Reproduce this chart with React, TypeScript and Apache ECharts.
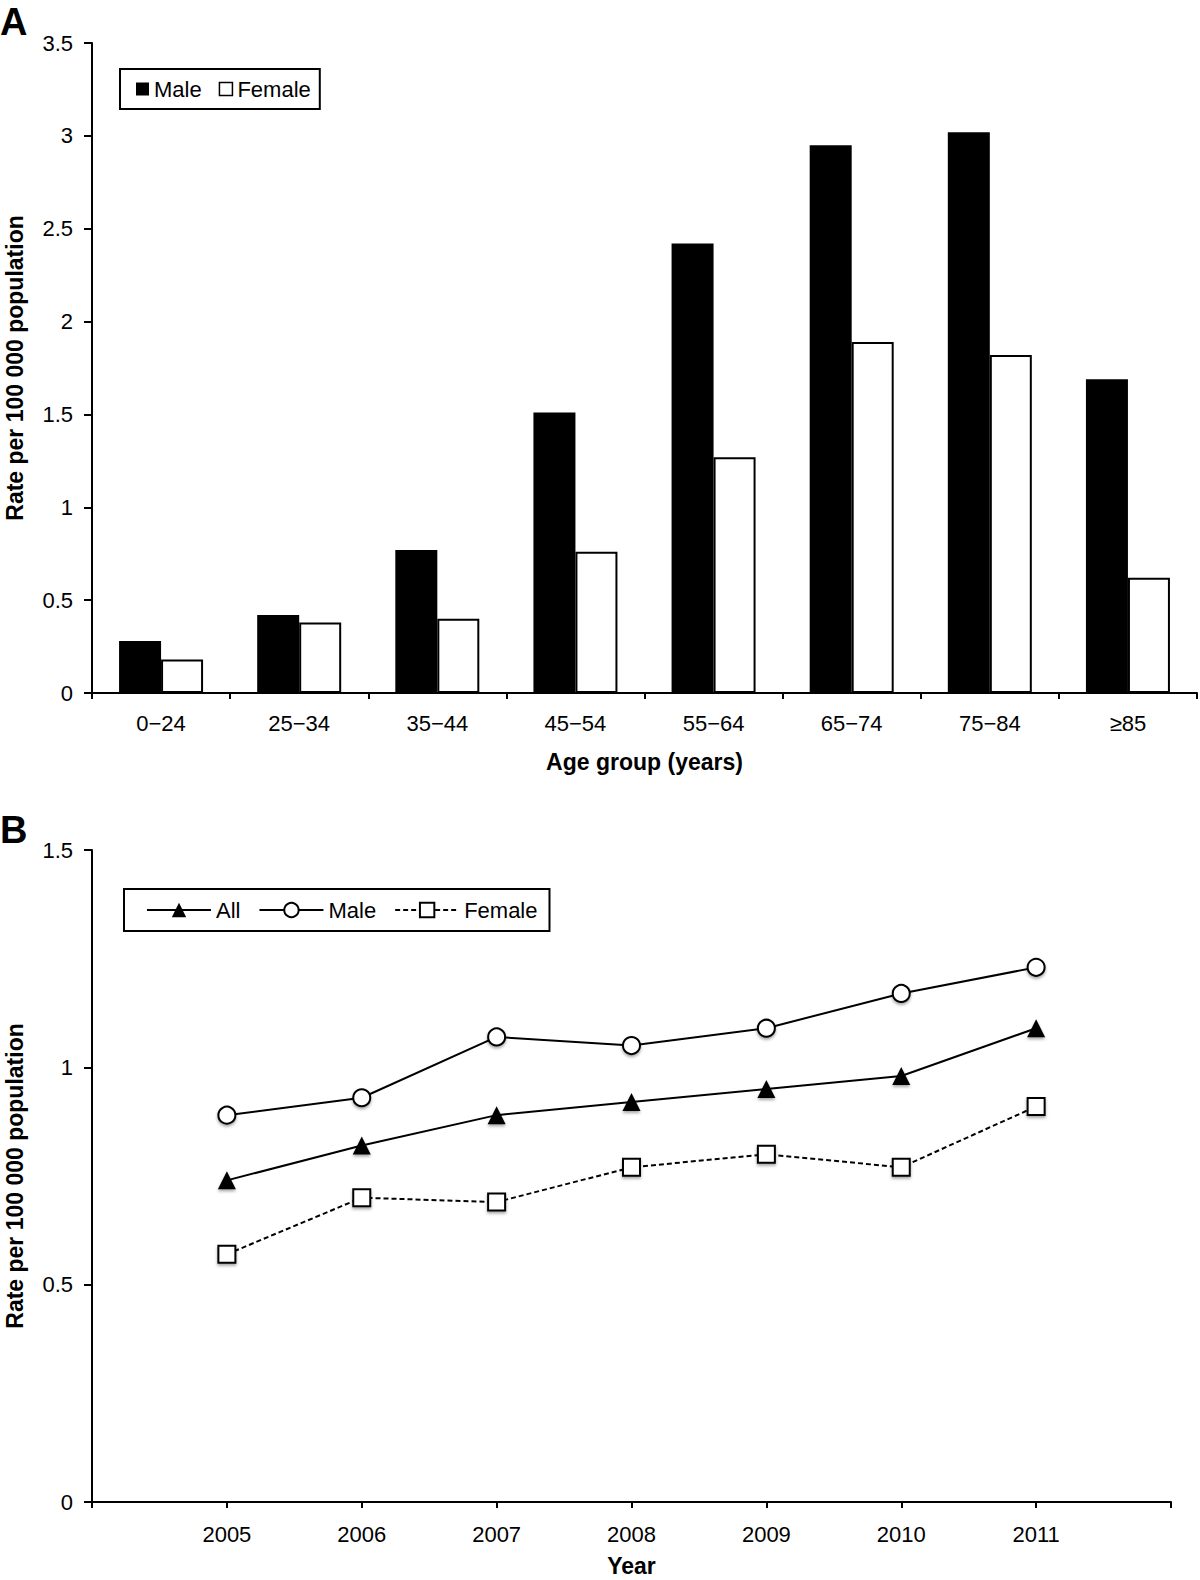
import React, { useEffect, useRef } from 'react';
import * as echarts from 'echarts';

// Panel A data
const ageGroups = ['0−24', '25−34', '35−44', '45−54', '55−64', '65−74', '75−84', '≥85'];
const maleRates = [0.28, 0.42, 0.77, 1.51, 2.42, 2.95, 3.02, 1.69];
const femaleRates = [0.18, 0.38, 0.4, 0.76, 1.27, 1.89, 1.82, 0.62];

// Panel B data
const years = [2005, 2006, 2007, 2008, 2009, 2010, 2011];
const allTrend = [0.74, 0.82, 0.89, 0.92, 0.95, 0.98, 1.09];
const maleTrend = [0.89, 0.93, 1.07, 1.05, 1.09, 1.17, 1.23];
const femaleTrend = [0.57, 0.7, 0.69, 0.77, 0.8, 0.77, 0.91];

const FONT = '"Liberation Sans", Arial, Helvetica, sans-serif';
const BLACK = '#000';

export default function App() {
  const ref = useRef<HTMLDivElement>(null);

  useEffect(() => {
    if (!ref.current) return;
    const chart = echarts.init(ref.current, undefined, { renderer: 'svg' });
    const axisLine = { show: true, lineStyle: { color: BLACK, width: 2 } };
    const tickStyle = { color: BLACK, width: 2 };
    const shadow = { shadowBlur: 3, shadowColor: 'rgba(0,0,0,0.35)', shadowOffsetY: 2 };
    const tickLabel = { color: BLACK, fontSize: 22, fontFamily: FONT };
    const titleStyle = { fontSize: 23, fontWeight: 'bold', color: BLACK, fontFamily: FONT };

    const option: any = {
      animation: false,
      backgroundColor: '#fff',
      textStyle: { fontFamily: FONT, color: BLACK },
      graphic: [
        { type: 'text', left: 0, top: 3, style: { text: 'A', font: `bold 38px ${FONT}`, fill: BLACK } },
        { type: 'text', left: 0, top: 811, style: { text: 'B', font: `bold 38px ${FONT}`, fill: BLACK } },
      ],
      grid: [
        { left: 92, top: 43, width: 1105, height: 650, containLabel: false, outerBoundsMode: 'none' },
        { left: 92, top: 850, width: 1079, height: 652, containLabel: false, outerBoundsMode: 'none' },
      ],
      legend: [
        {
          left: 120,
          top: 69,
          orient: 'horizontal',
          icon: 'rect',
          itemWidth: 13,
          itemHeight: 13,
          itemGap: 17,
          padding: [9, 9, 9, 16],
          borderColor: BLACK,
          borderWidth: 2,
          textStyle: { fontSize: 22, color: BLACK, fontFamily: FONT },
          data: [
            { name: 'Male', itemStyle: { color: BLACK, borderWidth: 0 } },
            { name: 'Female', itemStyle: { color: '#fff', borderColor: BLACK, borderWidth: 1.5 } },
          ],
        },
        {
          left: 124,
          top: 889,
          orient: 'horizontal',
          itemWidth: 64,
          itemHeight: 18,
          itemGap: 18,
          padding: [10, 12, 10, 22],
          borderColor: BLACK,
          borderWidth: 2,
          textStyle: { fontSize: 22, color: BLACK, fontFamily: FONT },
          formatter: (name: string) => name.replace(' trend', ''),
          data: ['All trend', 'Male trend', 'Female trend'],
        },
      ],
      xAxis: [
        {
          gridIndex: 0,
          type: 'category',
          data: ageGroups,
          axisLine,
          axisTick: { show: true, length: 6, lineStyle: tickStyle },
          axisLabel: { ...tickLabel, margin: 19 },
          splitLine: { show: false },
          name: 'Age group (years)',
          nameLocation: 'middle',
          nameGap: 57,
          nameTextStyle: titleStyle,
        },
        {
          gridIndex: 1,
          type: 'value',
          min: 2004,
          max: 2012,
          interval: 1,
          axisLine,
          axisTick: { show: true, length: 6, lineStyle: tickStyle },
          axisLabel: {
            ...tickLabel,
            margin: 21,
            formatter: (v: number) => (v === 2004 || v === 2012 ? '' : String(v)),
          },
          splitLine: { show: false },
          name: 'Year',
          nameLocation: 'middle',
          nameGap: 52,
          nameTextStyle: titleStyle,
        },
      ],
      yAxis: [
        {
          gridIndex: 0,
          type: 'value',
          min: 0,
          max: 3.5,
          interval: 0.5,
          axisLine,
          axisTick: { show: true, length: 8, lineStyle: tickStyle },
          axisLabel: { ...tickLabel, margin: 19 },
          splitLine: { show: false },
          name: 'Rate per 100 000 population',
          nameLocation: 'middle',
          nameGap: 66,
          nameTextStyle: titleStyle,
        },
        {
          gridIndex: 1,
          type: 'value',
          min: 0,
          max: 1.5,
          interval: 0.5,
          axisLine,
          axisTick: { show: true, length: 8, lineStyle: tickStyle },
          axisLabel: { ...tickLabel, margin: 19 },
          splitLine: { show: false },
          name: 'Rate per 100 000 population',
          nameLocation: 'middle',
          nameGap: 66,
          nameTextStyle: titleStyle,
        },
      ],
      series: [
        {
          name: 'Male',
          type: 'bar',
          xAxisIndex: 0,
          yAxisIndex: 0,
          data: maleRates,
          barWidth: 42,
          barGap: '0%',
          itemStyle: { color: BLACK },
        },
        {
          name: 'Female',
          type: 'bar',
          xAxisIndex: 0,
          yAxisIndex: 0,
          data: femaleRates,
          barWidth: 42,
          barGap: '0%',
          itemStyle: { color: '#fff', borderColor: BLACK, borderWidth: 2 },
        },
        {
          name: 'All trend',
          type: 'line',
          xAxisIndex: 1,
          yAxisIndex: 1,
          data: years.map((y, i) => [y, allTrend[i]]),
          symbol: 'triangle',
          symbolSize: 18,
          lineStyle: { color: BLACK, width: 2 },
          itemStyle: { color: BLACK, ...shadow },
        },
        {
          name: 'Male trend',
          type: 'line',
          xAxisIndex: 1,
          yAxisIndex: 1,
          data: years.map((y, i) => [y, maleTrend[i]]),
          symbol: 'emptyCircle',
          symbolSize: 17,
          lineStyle: { color: BLACK, width: 2 },
          itemStyle: { color: BLACK, borderWidth: 2, ...shadow },
        },
        {
          name: 'Female trend',
          type: 'line',
          xAxisIndex: 1,
          yAxisIndex: 1,
          data: years.map((y, i) => [y, femaleTrend[i]]),
          symbol: 'emptyRect',
          symbolSize: 17,
          lineStyle: { color: BLACK, width: 2, type: [5, 3] },
          itemStyle: { color: BLACK, borderWidth: 2, ...shadow },
        },
      ],
    };

    chart.setOption(option);
    return () => chart.dispose();
  }, []);

  return (
    <div
      ref={ref}
      style={{ position: 'absolute', left: 0, top: 0, width: 1200, height: 1580, background: '#fff' }}
    />
  );
}
